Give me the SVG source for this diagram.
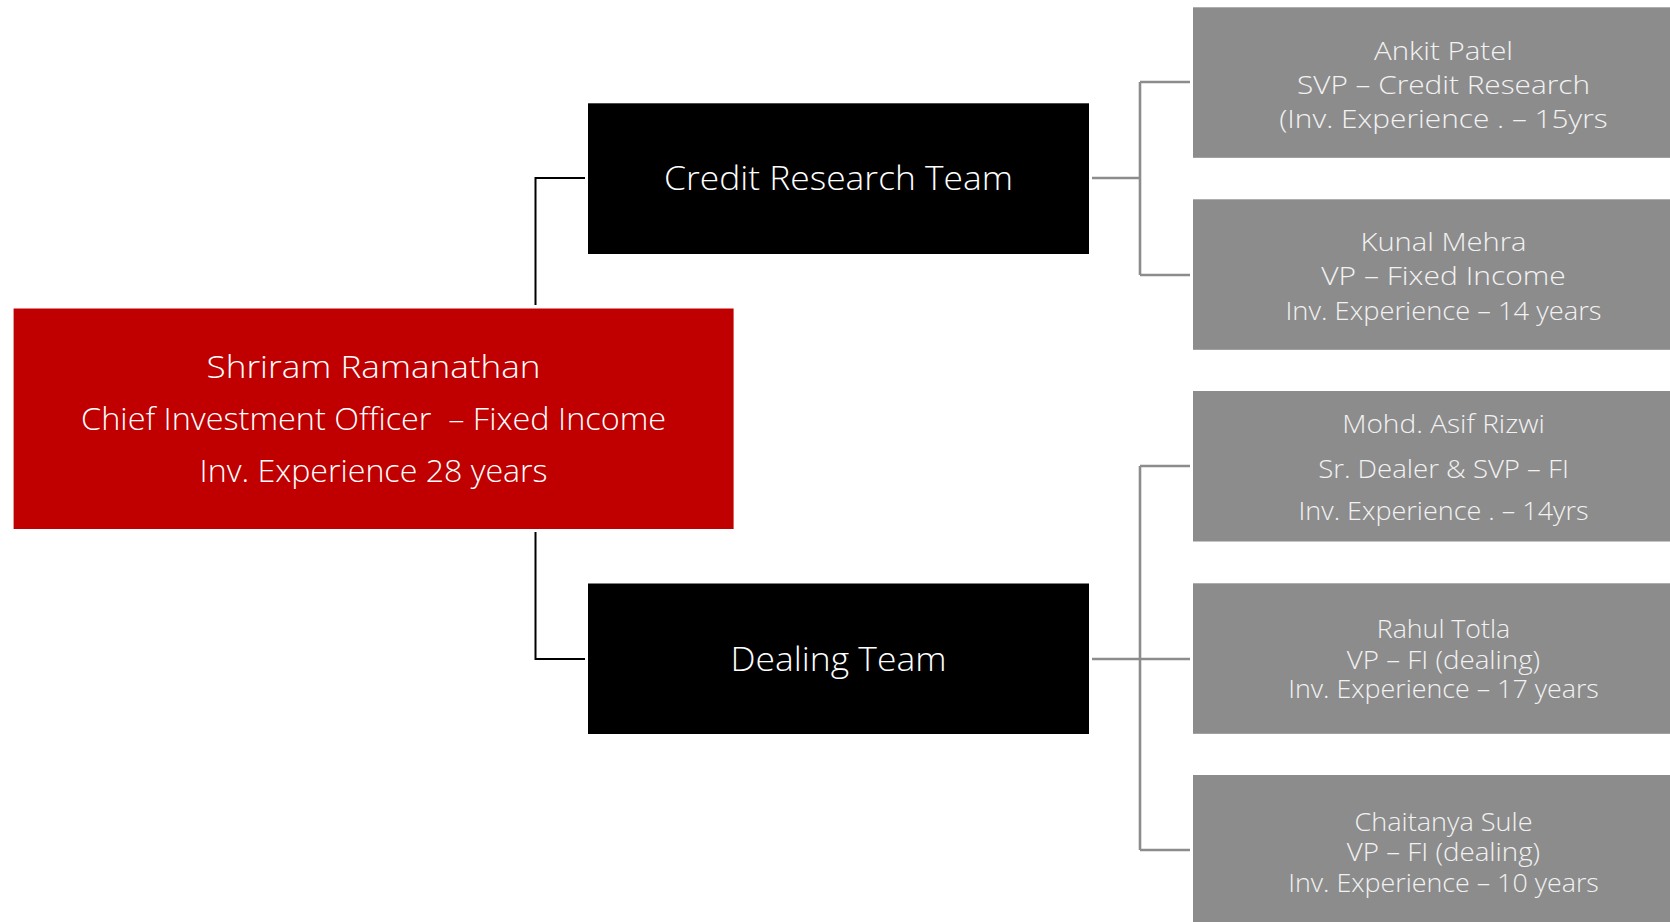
<svg xmlns="http://www.w3.org/2000/svg" width="1670" height="922" viewBox="0 0 1670 922">
  <style>
    .t { font-family: "Open Sans", "Liberation Sans", sans-serif; font-weight: 300; text-anchor: middle; white-space: pre; }
    .lead { fill: #C00000; }
    .team { fill: #000000; }
    .member { fill: #8C8C8C; }
    .lead-t { fill: #FFFFFF; font-size: 31px; }
    .team-t { fill: #FFFFFF; font-size: 33.5px; }
    .member-t { fill: #F2F2F2; font-size: 25.5px; }
    .link-dark { fill: none; stroke: #000000; stroke-width: 2; }
    .link-grey { fill: none; stroke: #8C8C8C; stroke-width: 2.6; }
  </style>

  <!-- connectors -->
  <g id="connectors">
    <path class="link-dark" d="M535.5,305 V178 H585"/>
    <path class="link-dark" d="M535.5,532 V659 H585"/>
    <path class="link-grey" d="M1092,178 H1140 M1140,82 V275 M1140,82 H1190 M1140,275 H1190"/>
    <path class="link-grey" d="M1092,659 H1190 M1140,466 V850 M1140,466 H1190 M1140,850 H1190"/>
  </g>

  <!-- head of the desk -->
  <g id="cio">
    <rect class="lead" x="13.6" y="308.5" width="720" height="220.5"/>
    <text class="t lead-t" x="373.6" y="377.5" textLength="334" lengthAdjust="spacingAndGlyphs">Shriram Ramanathan</text>
    <text class="t lead-t" x="373.6" y="430" textLength="585" lengthAdjust="spacingAndGlyphs">Chief Investment Officer  – Fixed Income</text>
    <text class="t lead-t" x="373.6" y="481.7" textLength="348" lengthAdjust="spacingAndGlyphs">Inv. Experience 28 years</text>
  </g>

  <!-- teams -->
  <g id="credit-research-team">
    <rect class="team" x="588" y="103.3" width="501" height="150.7"/>
    <text class="t team-t" x="838.5" y="190" textLength="349" lengthAdjust="spacingAndGlyphs">Credit Research Team</text>
  </g>
  <g id="dealing-team">
    <rect class="team" x="588" y="583.5" width="501" height="150.5"/>
    <text class="t team-t" x="838.5" y="671" textLength="216" lengthAdjust="spacingAndGlyphs">Dealing Team</text>
  </g>

  <!-- credit research members -->
  <g id="ankit-patel">
    <rect class="member" x="1193" y="7.3" width="501" height="150.5"/>
    <text class="t member-t" x="1443.5" y="60" textLength="139" lengthAdjust="spacingAndGlyphs">Ankit Patel</text>
    <text class="t member-t" x="1443.5" y="94" textLength="293" lengthAdjust="spacingAndGlyphs">SVP – Credit Research</text>
    <text class="t member-t" x="1443.5" y="128.3" textLength="328.5" lengthAdjust="spacingAndGlyphs">(Inv. Experience . – 15yrs</text>
  </g>
  <g id="kunal-mehra">
    <rect class="member" x="1193" y="199.3" width="501" height="150.5"/>
    <text class="t member-t" x="1443.5" y="250.5" textLength="166" lengthAdjust="spacingAndGlyphs">Kunal Mehra</text>
    <text class="t member-t" x="1443.5" y="285" textLength="244.5" lengthAdjust="spacingAndGlyphs">VP – Fixed Income</text>
    <text class="t member-t" x="1443.5" y="320" textLength="316" lengthAdjust="spacingAndGlyphs">Inv. Experience – 14 years</text>
  </g>

  <!-- dealing members -->
  <g id="mohd-asif-rizwi">
    <rect class="member" x="1193" y="391" width="501" height="150.5"/>
    <text class="t member-t" x="1443.5" y="432.7" textLength="202.7" lengthAdjust="spacingAndGlyphs">Mohd. Asif Rizwi</text>
    <text class="t member-t" x="1443.5" y="477.7" textLength="250.7" lengthAdjust="spacingAndGlyphs">Sr. Dealer &amp; SVP – FI</text>
    <text class="t member-t" x="1443.5" y="520" textLength="290" lengthAdjust="spacingAndGlyphs">Inv. Experience . – 14yrs</text>
  </g>
  <g id="rahul-totla">
    <rect class="member" x="1193" y="583.3" width="501" height="150.5"/>
    <text class="t member-t" x="1443.5" y="638.3" textLength="133.3" lengthAdjust="spacingAndGlyphs">Rahul Totla</text>
    <text class="t member-t" x="1443.5" y="669" textLength="193.3" lengthAdjust="spacingAndGlyphs">VP – FI (dealing)</text>
    <text class="t member-t" x="1443.5" y="698.3" textLength="310.7" lengthAdjust="spacingAndGlyphs">Inv. Experience – 17 years</text>
  </g>
  <g id="chaitanya-sule">
    <rect class="member" x="1193" y="775" width="501" height="150.5"/>
    <text class="t member-t" x="1443.5" y="830.7" textLength="178" lengthAdjust="spacingAndGlyphs">Chaitanya Sule</text>
    <text class="t member-t" x="1443.5" y="860.7" textLength="193.3" lengthAdjust="spacingAndGlyphs">VP – FI (dealing)</text>
    <text class="t member-t" x="1443.5" y="891.7" textLength="310.7" lengthAdjust="spacingAndGlyphs">Inv. Experience – 10 years</text>
  </g>
</svg>
